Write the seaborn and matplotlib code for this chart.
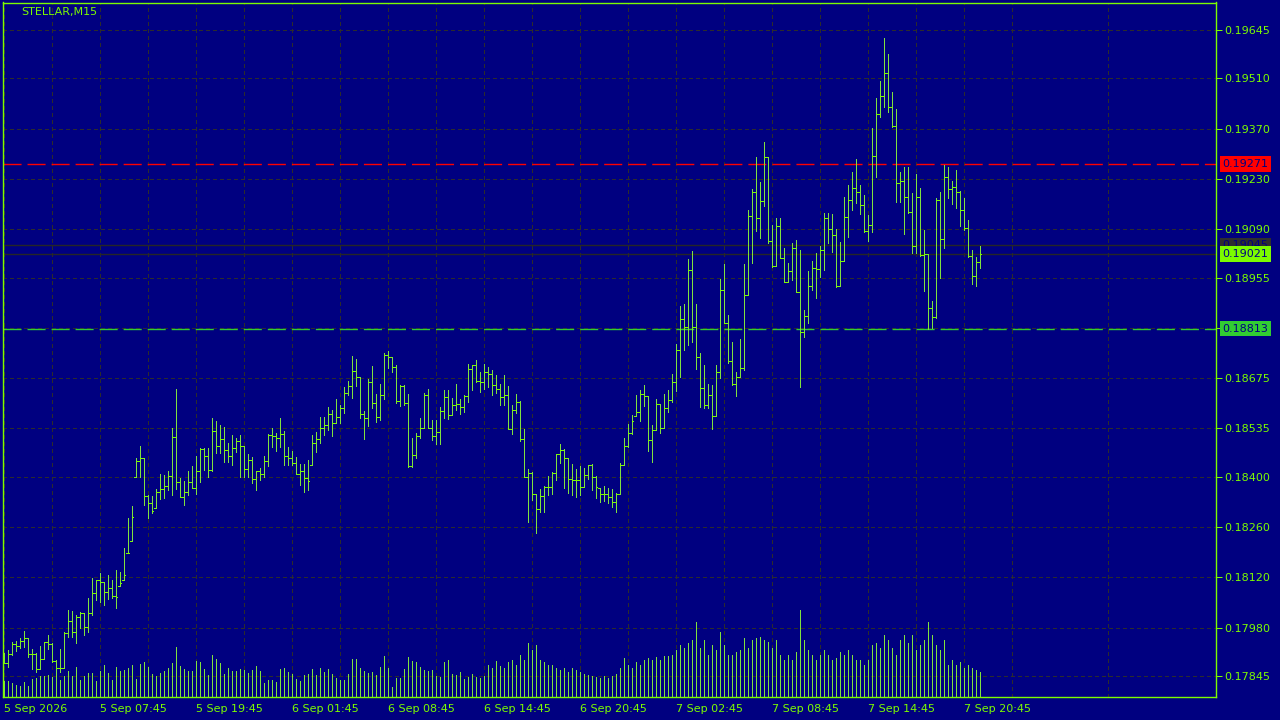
import numpy as np
import pandas as pd
import seaborn as sns
import matplotlib.pyplot as plt
from matplotlib.transforms import blended_transform_factory

# style MT4 : fond bleu marine, barres vertes
sns.set_theme(style="dark")
plt.rcParams['font.family'] = ['DejaVu Sans']
plt.rcParams['lines.scale_dashes'] = False

NAVY = '#000080'
LIME = '#7CFC00'
BAR = '#7FE23F'
GRID = '#2c2c2c'

# Données OHLC (en points, 1 point = 0.00001), open = close précédent
high = [17908, 17918, 17939, 17943, 17952, 17971, 17950, 17920, 17908, 17930,
        17939, 17959, 17936, 17890, 17920, 17967, 18029, 18026, 18014, 18023,
        18020, 18062, 18117, 18113, 18133, 18108, 18127, 18113, 18141, 18136,
        18201, 18286, 18319, 18452, 18486, 18452, 18350, 18347, 18366, 18407,
        18405, 18416, 18535, 18645, 18398, 18389, 18416, 18430, 18458, 18480,
        18480, 18480, 18563, 18556, 18545, 18540, 18494, 18517, 18507, 18517,
        18486, 18464,
        18454, 18417, 18424, 18458, 18520, 18535, 18521, 18565, 18528, 18484,
        18472, 18456, 18436, 18435, 18447, 18517, 18526, 18568, 18568, 18594,
        18586, 18616, 18600, 18651, 18668, 18736, 18728, 18677, 18584, 18674,
        18709, 18632, 18658, 18744, 18750, 18733, 18711, 18656, 18656, 18632,
        18507, 18521, 18563, 18634, 18646, 18558, 18558, 18594, 18642, 18642,
        18619, 18658, 18616, 18628, 18714, 18713, 18725, 18693, 18714, 18707,
        18699, 18685, 18659,
        18684, 18654, 18600, 18631, 18612, 18533, 18422, 18413, 18352, 18367,
        18375, 18403, 18413, 18463, 18492, 18477, 18452, 18436, 18422, 18429,
        18424, 18433, 18436, 18403, 18370, 18375, 18368, 18367, 18354, 18438,
        18508, 18548, 18573, 18628, 18642, 18656, 18624,
        18544, 18616, 18602, 18630, 18642, 18686, 18770, 18876, 18881, 19006,
        19029, 18881, 18744, 18711, 18660, 18656, 18711, 18951, 18993, 18851,
        18777, 18691, 18784, 18993, 19143, 19201, 19292, 19222, 19332, 19290,
        19102, 19120, 19120, 19037, 18997, 19052, 19060,
        19032, 18865, 18974, 19001, 19025, 19043, 19136, 19136, 19132, 19091,
        19053, 19181, 19213, 19250, 19286, 19213, 19185, 19130, 19371, 19455,
        19503, 19624, 19578, 19471, 19425, 19250, 19264, 19264, 19192, 19244,
        19206, 19088, 19021, 18891, 19176, 19195, 19269, 19264, 19225, 19255,
        19196, 19176, 19116, 19032, 19013, 19043]

low = [17881, 17869, 17903, 17916, 17924, 17925, 17897, 17866, 17857, 17864,
       17892, 17920, 17885, 17860, 17857, 17867, 17955, 17955, 17938, 17978,
       17960, 17967, 18015, 18057, 18052, 18043, 18060, 18062, 18036, 18097,
       18113, 18187, 18221, 18401, 18401, 18322, 18285, 18300, 18314, 18338,
       18340, 18363, 18350, 18365, 18343, 18322, 18350, 18368, 18352, 18387,
       18419, 18401, 18415, 18466, 18466, 18442, 18442, 18433, 18470, 18401,
       18401, 18401,
       18382, 18364, 18391, 18401, 18429, 18484, 18472, 18484, 18433, 18433,
       18433, 18407, 18377, 18359, 18364, 18433, 18470, 18494, 18517, 18531,
       18514, 18549, 18549, 18577, 18628, 18621, 18654, 18565, 18505, 18542,
       18591, 18553, 18558, 18617, 18704, 18691, 18605, 18598, 18600, 18428,
       18428, 18453, 18507, 18535, 18535, 18502, 18493, 18493, 18565, 18561,
       18572, 18586, 18575, 18580, 18609, 18642, 18663, 18637, 18646, 18651,
       18628, 18633, 18600,
       18599, 18533, 18520, 18577, 18501, 18401, 18273, 18336, 18245, 18301,
       18303, 18350, 18352, 18392, 18440, 18368, 18356, 18350, 18345, 18350,
       18371, 18394, 18364, 18342, 18331, 18334, 18327, 18315, 18303, 18352,
       18433, 18482, 18520, 18570, 18556, 18598, 18471,
       18441, 18530, 18523, 18535, 18581, 18609, 18640, 18679, 18753, 18767,
       18776, 18700, 18595, 18591, 18591, 18533, 18570, 18676, 18829, 18718,
       18656, 18626, 18679, 18699, 18908, 18997, 19086, 19066, 19155, 19051,
       18985, 18988, 19009, 18944, 18944, 18948, 18914,
       18651, 18789, 18830, 18922, 18897, 18958, 18976, 19051, 19027, 18930,
       18932, 19001, 19069, 19144, 19162, 19131, 19081, 19058, 19081, 19235,
       19404, 19431, 19417, 19376, 19167, 19167, 19077, 19136, 19023, 19023,
       19016, 18919, 18812, 18816, 18844, 18953, 19039, 19178, 19160, 19148,
       19100, 19088, 19013, 18936, 18932, 18981]

close = [17882, 17907, 17934, 17929, 17943, 17950, 17907, 17907, 17864, 17892,
         17939, 17934, 17887, 17867, 17867, 17964, 17999, 17967, 18011, 18020,
         17983, 18020, 18076, 18113, 18106, 18080, 18090, 18068, 18066, 18104,
         18127, 18189, 18289, 18444, 18452, 18347, 18326, 18305, 18357, 18366,
         18375, 18403, 18512, 18385, 18345, 18357, 18385, 18368, 18417, 18478,
         18458, 18419, 18528, 18486, 18505, 18475, 18458, 18481, 18500, 18486,
         18421, 18447,
         18395, 18416, 18407, 18444, 18517, 18514, 18507, 18519, 18457, 18452,
         18440, 18407, 18416, 18396, 18389, 18495, 18505, 18535, 18545, 18574,
         18551, 18567, 18593, 18635, 18654, 18696, 18677, 18575, 18565, 18663,
         18607, 18566, 18627, 18739, 18735, 18705, 18612, 18653, 18607, 18431,
         18462, 18514, 18537, 18628, 18535, 18515, 18526, 18583, 18623, 18572,
         18599, 18602, 18595, 18625, 18700, 18711, 18668, 18663, 18691, 18686,
         18656, 18645, 18622,
         18628, 18533, 18587, 18610, 18505, 18401, 18412, 18352, 18310, 18348,
         18373, 18371, 18412, 18463, 18475, 18452, 18394, 18392, 18390, 18373,
         18406, 18433, 18401, 18373, 18352, 18352, 18343, 18331, 18352, 18433,
         18485, 18522, 18556, 18582, 18630, 18626, 18503,
         18532, 18602, 18535, 18592, 18614, 18663, 18753, 18841, 18818, 18976,
         18818, 18733, 18649, 18600, 18628, 18570, 18693, 18922, 18829, 18724,
         18658, 18679, 18702, 18908, 19128, 19193, 19120, 19169, 19290, 19057,
         18987, 19100, 19009, 18944, 18973, 19039, 18914,
         18805, 18849, 18932, 18981, 18978, 19032, 19120, 19090, 19074, 18932,
         19002, 19123, 19171, 19204, 19193, 19157, 19085, 19102, 19294, 19410,
         19461, 19524, 19430, 19378, 19218, 19225, 19181, 19139, 19043, 19179,
         19018, 19020, 18871, 18846, 19171, 19063, 19236, 19201, 19207, 19195,
         19144, 19092, 19015, 18961, 18998, 19021]

volume = [47, 47, 40, 35, 32, 44, 32, 53, 56, 62,
          62, 65, 59, 77, 50, 62, 77, 62, 89, 50,
          62, 71, 71, 47, 77, 95, 71, 50, 89, 77,
          80, 86, 95, 53, 98, 104, 89, 68, 62, 71,
          77, 86, 101, 149, 92, 83, 77, 77, 107, 104,
          83, 65, 125, 113, 101, 68, 86, 77, 77, 83,
          80, 71, 80, 92, 77, 41, 50, 50, 44, 83,
          86, 74, 68, 53, 47, 65, 68, 83, 65, 86,
          74, 83, 68, 56, 50, 50, 68, 113, 113, 86,
          77, 71, 74, 65, 89, 122, 86, 29, 56, 56,
          83, 119, 107, 104, 89, 80, 77, 80, 62, 59,
          104, 110, 68, 65, 74, 53, 59, 68, 59, 56,
          62, 95, 86, 107, 92,
          87, 105, 111, 96, 126, 111, 162, 141, 156, 111,
          105, 96, 96, 87, 81, 87, 75, 87, 81, 75,
          69, 66, 63, 60, 57, 63, 57, 63, 69, 87,
          117, 96, 87, 105, 96, 111, 117, 111, 120, 111,
          123, 123, 126, 141, 156, 147, 162, 171, 225, 147,
          171, 126, 156, 141, 195, 156, 126, 126, 135, 141,
          177, 147, 171, 177, 180, 171, 165, 147, 171, 126,
          111, 126, 111, 135, 261, 171, 141, 126, 111, 126,
          141, 126, 111, 117, 135, 126, 141, 126, 111, 111,
          96, 111, 156, 162, 147, 186, 171, 147, 126, 171,
          186, 162, 186, 141, 156, 171, 225, 186, 156, 141,
          171, 96, 111, 96, 105, 87, 96, 87, 81, 75]

price_ticks = [0.19645, 0.19510, 0.19370, 0.19230, 0.19090, 0.18955, 0.18815,
               0.18675, 0.18535, 0.18400, 0.18260, 0.18120, 0.17980, 0.17845]
price_labels = ['0.19645', '0.19510', '0.19370', '0.19230', '0.19090', '0.18955', '',
                '0.18675', '0.18535', '0.18400', '0.18260', '0.18120', '0.17980', '0.17845']
time_labels = ['5 Sep 2026', '5 Sep 07:45', '5 Sep 19:45', '6 Sep 01:45', '6 Sep 08:45',
               '6 Sep 14:45', '6 Sep 20:45', '7 Sep 02:45', '7 Sep 08:45', '7 Sep 14:45',
               '7 Sep 20:45']

resist_level = 0.19271
support_level = 0.18813
ask_price = 0.19045
bid_price = 0.19021

df = pd.DataFrame({'high': np.array(high) / 1e5, 'low': np.array(low) / 1e5,
                   'close': np.array(close) / 1e5, 'volume': volume})
df['open'] = df['close'].shift(1).fillna(df['close'].iloc[0])
df['open'] = df['open'].clip(df['low'], df['high'])
x = np.arange(len(df))

fig = plt.figure(figsize=(12.8, 7.2), dpi=100, facecolor=NAVY)
ax = fig.add_axes([2.5 / 1280, 1 - 696.7 / 720, 1213.5 / 1280, 694.2 / 720])
ax.set_facecolor(NAVY)
# 4 pixels par barre, centre des barres sur le centre des pixels
ax.set_xlim(-0.25, 303.125)
ax.set_ylim(0.177876, 0.197216)

# grille
ax.set_xticks(np.arange(0, 250, 24))
ax.set_xticks(np.arange(12, 300, 24), minor=True)
ax.set_xticklabels(time_labels)
for lab in ax.get_xticklabels():
    lab.set_ha('left')
ax.set_yticks(price_ticks)
ax.set_yticklabels(price_labels)
ax.yaxis.tick_right()
ax.grid(True, which='both', color=GRID, linestyle=(0, (2.2, 2.2)), linewidth=0.72,
        antialiased=False)
ax.tick_params(axis='x', which='major', colors=LIME, length=3, width=0.72, pad=2, labelsize=8)
ax.tick_params(axis='x', which='minor', length=0)
ax.tick_params(axis='y', colors=LIME, length=4, width=0.72, pad=2, labelsize=8)
for sp in ax.spines.values():
    sp.set_color(LIME)
    sp.set_linewidth(1.0)

# volumes en bas de la fenêtre
vol_tr = ax.get_xaxis_transform()
ax.vlines(x, 0, df['volume'] / 2083, transform=vol_tr, color=BAR, lw=0.72,
          antialiased=False, snap=True)

# niveaux
ax.axhline(ask_price, color='#262626', lw=1)
ax.axhline(bid_price, color='#262626', lw=1)
ax.axhline(resist_level, color='#FF0000', lw=1, linestyle=(0, (13, 4.3)))
ax.axhline(support_level, color='#32CD32', lw=1, linestyle=(0, (13, 4.3)))

# barres OHLC (ticks gauche = open, droite = close)
ax.vlines(x, df['low'], df['high'], color=BAR, lw=0.72, antialiased=False, snap=True)
ax.hlines(df['open'], x - 0.375, x - 0.125, color=LIME, lw=0.72, antialiased=False, snap=True)
ax.hlines(df['close'], x + 0.125, x + 0.375, color=LIME, lw=0.72, antialiased=False, snap=True)

# étiquettes de prix à droite
tr = blended_transform_factory(ax.transAxes, ax.transData)
for val, fc in [(resist_level, '#FF0000'), (ask_price, '#2e2e2e'),
                (bid_price, LIME), (support_level, '#32CD32')]:
    ax.text(1.0053, val, f'{val:.5f}', transform=tr, fontsize=8, color=NAVY,
            va='center', ha='left', clip_on=False,
            bbox=dict(boxstyle='square,pad=0.25', fc=fc, ec='none'))

fig.text(21 / 1280, 1 - 12 / 720, 'STELLAR,M15', color=LIME, fontsize=8,
         va='center', ha='left')

fig.savefig('out.png', dpi=100, facecolor=NAVY)
